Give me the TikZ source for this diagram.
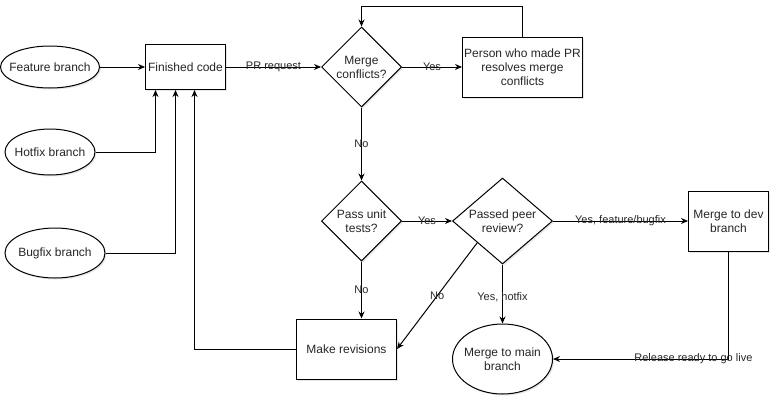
\documentclass[tikz,border=0pt]{standalone}
\usepackage{fontspec}
\setmainfont{Liberation Sans}
\usepackage{tikz}
\usetikzlibrary{arrows.meta}
\usetikzlibrary{shapes.geometric,
                positioning,
                shadows,
                calc}

\begin{document}
\begin{tikzpicture}[
        x=1pt, y=-1pt,
        every node/.style={font=\fontsize{12}{14}\selectfont, text=black!85, align=center},
        process/.style={draw=black, line width=1pt, fill=white, minimum width=80pt, minimum height=60pt, inner sep=1pt,
                        drop shadow={shadow xshift=1.5pt, shadow yshift=-1.5pt, opacity=0.2}},
        branch/.style={draw=black, ellipse, line width=1pt, fill=white, inner xsep=-6pt, inner ysep=0pt,
                        drop shadow={shadow xshift=1.5pt, shadow yshift=-1.5pt, opacity=0.2}},
        decision/.style={draw=black, diamond, line width=1pt, fill=white, minimum width=80pt, minimum height=80pt, inner sep=-2pt,
                        drop shadow={shadow xshift=1.5pt, shadow yshift=-1.5pt, opacity=0.2}},
        flow/.style={-{Stealth[length=7pt, width=6pt]}, line width=1pt},
        lbl/.style={font=\fontsize{11}{13}\selectfont, inner sep=1pt}
        ]
        \useasboundingbox (0,0) rectangle (778,402);

        % Nodes
        \node[branch, minimum width=99pt, minimum height=42pt] (feature) at (50,67) {Feature branch};
        \node[process, minimum height=45pt, right=45pt of feature] (finished) {Finished code};
        \node[decision, right=95pt of finished] (conflicts) {Merge\\conflicts?};
        \node[process, minimum width=120pt, right=60pt of conflicts] (resolve) {Person who made PR\\resolves merge\\conflicts};
        \node[branch, minimum width=90pt, minimum height=46pt, below=40pt of feature] (hotfix) {Hotfix branch};
        \node[branch, minimum width=100pt, minimum height=50pt, below=52pt of hotfix, xshift=5pt] (bugfix) {Bugfix branch};
        \node[decision, below=73pt of conflicts] (unittests) {Pass unit\\tests?};
        \node[decision, minimum width=100pt, minimum height=86pt, right=50pt of unittests] (review) {Passed peer\\review?};
        \node[process, right=135pt of review] (devmerge) {Merge to dev\\branch};
        \node[branch, minimum width=100pt, minimum height=70pt, below=59pt of review] (mainmerge) {Merge to main\\branch};
        \node[process, minimum width=100pt, below=57pt of unittests, xshift=-15pt] (revisions) {Make revisions};

        % Arrows
        \draw[flow] (feature) -- (finished);
        \draw[flow] (hotfix) -| ([xshift=-30pt]finished.south);
        \draw[flow] (bugfix) -| ([xshift=-10pt]finished.south);
        \draw[flow] (revisions) -| ([xshift=9pt]finished.south);
        \draw[flow] (finished) -- node[lbl] {PR request} (conflicts);
        \draw[flow] (conflicts) -- node[lbl] {Yes} (resolve);
        \draw[flow] (resolve.north) |- ([yshift=20pt]conflicts.north) -- (conflicts.north);
        \draw[flow] (conflicts) -- node[lbl] {No} (unittests);
        \draw[flow] (unittests) -- node[lbl] {Yes} (review);
        \draw[flow] (unittests.south) -- node[lbl] {No} (unittests.south |- revisions.north);
        \draw[flow] (review) -- node[lbl] {Yes, feature/bugfix} (devmerge);
        \draw[flow] (review) -- node[lbl, pos=0.55] {Yes, hotfix} (mainmerge);
        \draw[flow] (review.south west) -- node[lbl] {No} (revisions.east);
        \draw[flow] (devmerge) |- node[lbl, pos=0.6] {Release ready to go live} (mainmerge);

\end{tikzpicture}
\end{document}
